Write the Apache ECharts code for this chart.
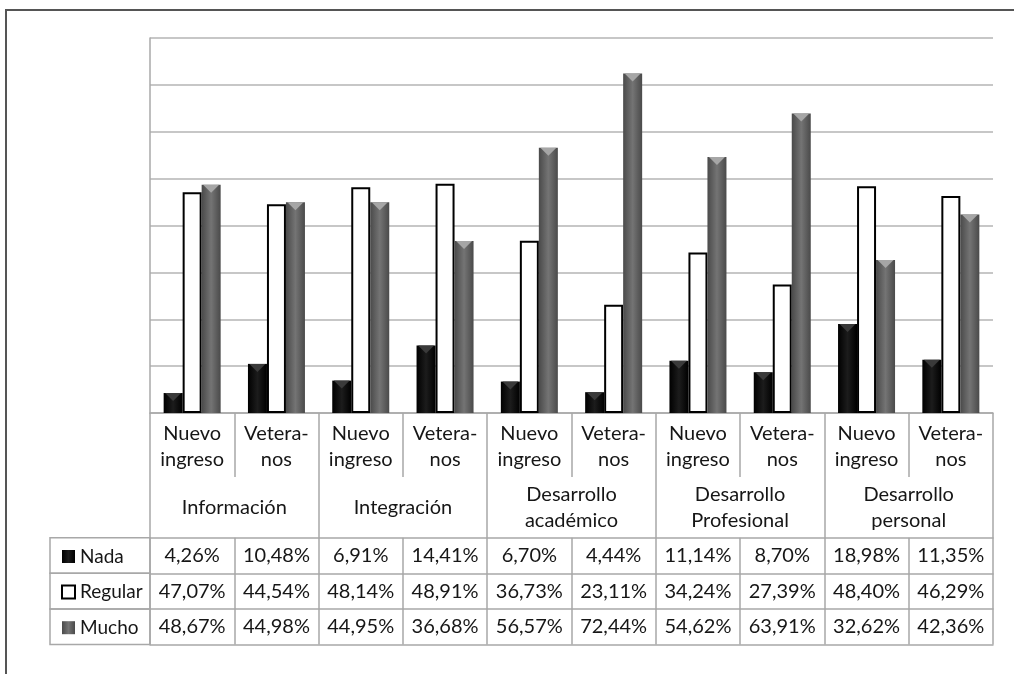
<!DOCTYPE html>
<html>
<head>
<meta charset="utf-8">
<script src="https://cdn.jsdelivr.net/npm/echarts@6/dist/echarts.min.js"></script>
<style>
  html, body { margin: 0; padding: 0; background: #fff; }
  #main { width: 1014px; height: 674px; }
</style>
</head>
<body>
<div id="main"></div>
<script>
// sub categories (bottom of the bars) and the groups under them
var subLabels = ['Nuevo\ningreso', 'Vetera-\nnos', 'Nuevo\ningreso', 'Vetera-\nnos',
	'Nuevo\ningreso', 'Vetera-\nnos', 'Nuevo\ningreso', 'Vetera-\nnos',
	'Nuevo\ningreso', 'Vetera-\nnos'];
var groupLabels = ['Información', 'Integración', 'Desarrollo\nacadémico',
	'Desarrollo\nProfesional', 'Desarrollo\npersonal'];

// series values (%)
var nada = [4.26, 10.48, 6.91, 14.41, 6.70, 4.44, 11.14, 8.70, 18.98, 11.35];
var regular = [47.07, 44.54, 48.14, 48.91, 36.73, 23.11, 34.24, 27.39, 48.40, 46.29];
var mucho = [48.67, 44.98, 44.95, 36.68, 56.57, 72.44, 54.62, 63.91, 32.62, 42.36];
var seriesNames = ['Nada', 'Regular', 'Mucho'];

// value axis: 0..80 step 10 (no labels shown)
var yMin = 0, yMax = 80, yStep = 10;

var FONT = 'Lato';
var LINE = '#a8a8a8';
var TXT = '#161616';

// table geometry below the baseline
var rowTop = [124.7, 160.3, 195.9];
var rowH = 35.6;
var baseY = 413;

function fmt(v) {
	return v.toFixed(2).replace('.', ',') + '%';
}

var myChart = echarts.init(document.getElementById('main'));

function tableAxis(data, offset, tickLen, labelMargin, showLine) {
	return {
		type : 'category',
		gridIndex : 0,
		position : 'bottom',
		offset : offset,
		data : data,
		boundaryGap : true,
		axisLine : { show : showLine, lineStyle : { color : LINE, width : 1.5 } },
		axisTick : { show : tickLen > 0, length : tickLen, interval : 0, lineStyle : { color : LINE, width : 1.5 } },
		axisLabel : {
			show : labelMargin != null,
			interval : 0,
			margin : labelMargin || 0,
			verticalAlign : 'middle',
			fontFamily : FONT,
			fontSize : 20,
			lineHeight : 26,
			color : TXT
		},
		splitLine : { show : false }
	};
}

var xAxes = [
	tableAxis(subLabels, 0, 64, 34, true),
	tableAxis(groupLabels, 0, 231.3, 95, false),
	tableAxis(nada.map(fmt), rowTop[0], rowH, rowH / 2, true),
	tableAxis(regular.map(fmt), rowTop[1], rowH, rowH / 2, true),
	tableAxis(mucho.map(fmt), rowTop[2], rowH, rowH / 2, true),
	tableAxis(subLabels, rowTop[2] + rowH, 0, null, true)
];

function barGrad(edge, mid) {
	return new echarts.graphic.LinearGradient(0, 0, 1, 0, [
		{ offset : 0, color : edge },
		{ offset : 0.5, color : mid },
		{ offset : 1, color : edge }
	]);
}

var barCommon = {
	type : 'bar',
	xAxisIndex : 0,
	barWidth : 19,
	barGap : '0%'
};

// little pyramid cap on top of the bars
function capSeries(name, data, color) {
	return {
		name : name,
		type : 'pictorialBar',
		xAxisIndex : 0,
		barWidth : 19,
		barGap : '0%',
		symbol : 'triangle',
		symbolRotate : 180,
		symbolSize : [16, 8],
		symbolPosition : 'end',
		symbolOffset : [0, 0],
		itemStyle : { color : color },
		silent : true,
		z : 5,
		data : data
	};
}

var option = {
	animation : false,
	grid : { left : 150, right : 21, top : 38, bottom : 674 - baseY, containLabel : false },
	legend : {
		data : seriesNames,
		orient : 'vertical',
		left : 56,
		top : baseY + rowTop[0] + rowH / 2 - 14,
		itemWidth : 13,
		itemHeight : 13,
		itemGap : rowH - 20,
		icon : 'rect',
		selectedMode : false,
		textStyle : { fontFamily : FONT, fontSize : 19, lineHeight : 20, color : TXT }
	},
	xAxis : xAxes,
	yAxis : {
		type : 'value',
		min : yMin,
		max : yMax,
		interval : yStep,
		axisLabel : { show : false },
		axisTick : { show : false },
		axisLine : { show : true, lineStyle : { color : LINE, width : 1.5 } },
		splitLine : { lineStyle : { color : '#b4b4b4', width : 1.5 } }
	},
	graphic : [
		// outer frame
		{ type : 'rect', shape : { x : 6, y : 10, width : 1030, height : 700 },
		  style : { fill : 'none', stroke : '#555', lineWidth : 2 } },
		// legend column cells
		{ type : 'rect', shape : { x : 50, y : baseY + rowTop[0], width : 100, height : rowH },
		  style : { fill : 'none', stroke : LINE, lineWidth : 1.5 } },
		{ type : 'rect', shape : { x : 50, y : baseY + rowTop[1], width : 100, height : rowH },
		  style : { fill : 'none', stroke : LINE, lineWidth : 1.5 } },
		{ type : 'rect', shape : { x : 50, y : baseY + rowTop[2], width : 100, height : rowH },
		  style : { fill : 'none', stroke : LINE, lineWidth : 1.5 } }
	],
	series : [
		echarts.util.extend({
			name : 'Nada',
			data : nada,
			itemStyle : { color : barGrad('#000', '#1c1c1c'), borderColor : '#000', borderWidth : 0 }
		}, barCommon),
		echarts.util.extend({
			name : 'Regular',
			data : regular,
			itemStyle : { color : '#fff', borderColor : '#000', borderWidth : 2 }
		}, barCommon),
		echarts.util.extend({
			name : 'Mucho',
			data : mucho,
			itemStyle : { color : barGrad('#4a4a4a', '#747474') }
		}, barCommon),
		capSeries('capNada', nada, '#3a3a3a'),
		capSeries('capRegular', regular, 'rgba(0,0,0,0)'),
		capSeries('capMucho', mucho, '#a6a6a6')
	]
};

myChart.setOption(option);
</script>
</body>
</html>
